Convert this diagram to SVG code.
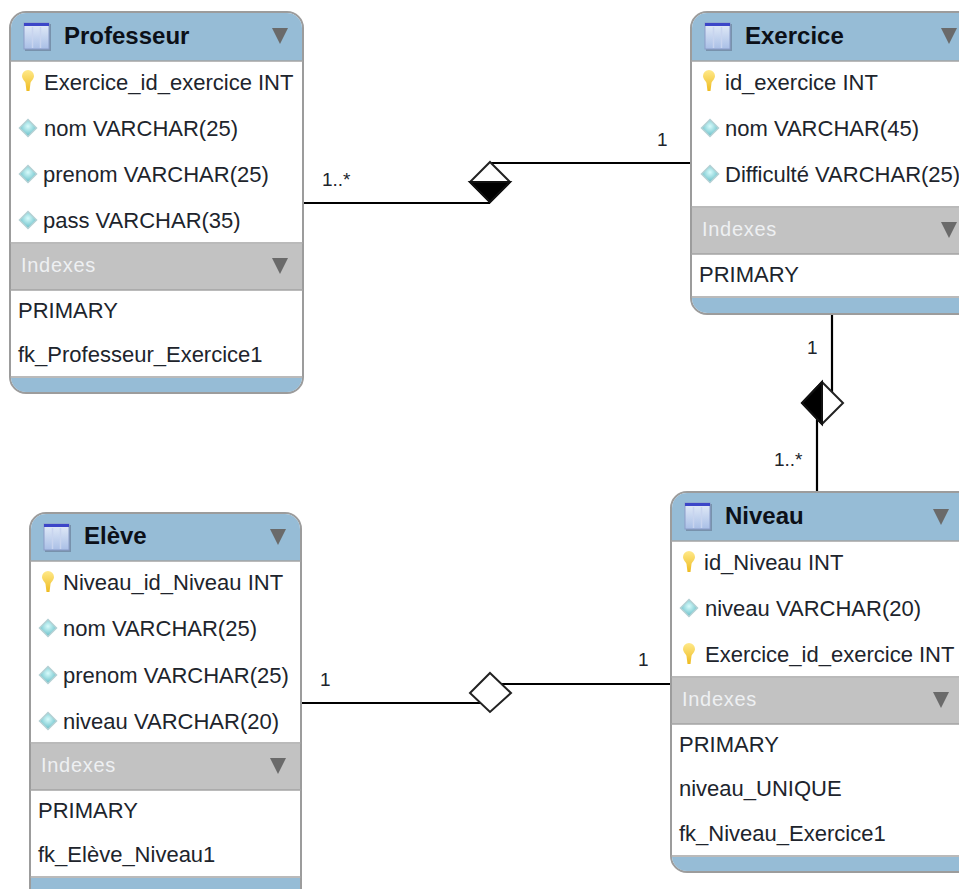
<svg xmlns="http://www.w3.org/2000/svg" xmlns:xlink="http://www.w3.org/1999/xlink" width="959" height="889" viewBox="0 0 959 889">
<style>
text{font-family:"Liberation Sans",Arial,sans-serif;font-size:22px;fill:#20242c}
.t{font-weight:bold;font-size:24px;fill:#0c1018}
.i{fill:#eef0f2;font-size:20px;letter-spacing:.7px}
.c{font-size:19px}
.body{fill:#fff;stroke:#9c9c9c;stroke-width:2}
.hd{fill:#96bcd6}
.ix{fill:#c2c2c2}
.edge{fill:none;stroke:#000;stroke-width:2.200}
.dw{fill:#fff;stroke:#222;stroke-width:2}
</style>
<defs>
<linearGradient id="tg" x1="0" y1="0" x2="0" y2="1"><stop offset="0" stop-color="#e4ecf8"/><stop offset="1" stop-color="#a9bfe6"/></linearGradient>
<radialGradient id="dg" cx=".5" cy=".4" r=".6"><stop offset="0" stop-color="#d8fbfb"/><stop offset="1" stop-color="#62bcc6"/></radialGradient>
<linearGradient id="kg" x1="0" y1="0" x2="0" y2="1"><stop offset="0" stop-color="#ffe98a"/><stop offset="1" stop-color="#eebb20"/></linearGradient>
<g id="tbl"><rect x="1" y="1" width="26" height="27" fill="#55607a" opacity=".45"/><rect x="0" y="0" width="25" height="26" fill="url(#tg)" stroke="#8b9cc8"/><rect x="0" y="0" width="25" height="3" fill="#3c46c8"/><path d="M8.500 4V25M16.500 4V25" stroke="#c8d4ee" stroke-width="1.500"/></g>
<path id="tri" d="M-8-8H8L0 8Z" fill="#6a6a6a"/>
<path id="dia" d="M0-8.500L8.500 0L0 8.500L-8.500 0Z" fill="url(#dg)" stroke="#b4d0d4" stroke-width="1.500"/>
<g id="key"><path d="M-6-5A6 6 0 0 1 6-5C6-2 3 0 2.500 2L1.500 10H-1.500L-2.500 2C-3 0-6-2-6-5Z" fill="url(#kg)"/></g>
</defs>

<g id="connectors">
<path class="edge" d="M303 203H490M490 163H691"/>
<path class="edge" d="M832 314V405M817 405V492"/>
<path class="edge" d="M301 703H490M490 684H671"/>
<path d="M490 162L510 182L490 202L470 182Z" fill="#fff" stroke="#222" stroke-width="2"/>
<path d="M470 182H510L490 202Z" fill="#000" stroke="#111" stroke-width="2"/>
<path d="M822 382L843 403L822 424L802 403Z" fill="#fff" stroke="#222" stroke-width="2"/>
<path d="M822 382V424L802 403Z" fill="#000" stroke="#111" stroke-width="2"/>
<path class="dw" d="M490 673L511 693L490 712L470 693Z"/>
<text class="c" x="322" y="186">1..*</text>
<text class="c" x="657" y="146">1</text>
<text class="c" x="807" y="354">1</text>
<text class="c" x="774" y="466">1..*</text>
<text class="c" x="320" y="686">1</text>
<text class="c" x="638" y="666">1</text>
</g>

<g id="professeur">
<rect class="body" x="10" y="12" width="293" height="381" rx="16"/>
<path class="hd" d="M11 61V28A15 15 0 0 1 26 13H287A15 15 0 0 1 302 28V61Z"/>
<rect class="ix" x="11" y="244" width="291" height="46"/>
<path class="hd" d="M11 378H302A15 15 0 0 1 287 392H26A15 15 0 0 1 11 378Z"/>
<path d="M10 61H303M10 243H303M10 290H303M10 377H303" stroke="#a4a4a4" stroke-width="1.500"/>
<use href="#tbl" x="24" y="23"/><text class="t" x="64" y="44">Professeur</text><use href="#tri" x="280" y="36"/>
<use href="#key" x="28" y="81"/><text x="44" y="90">Exercice_id_exercice INT</text>
<use href="#dia" x="28" y="128"/><text x="44" y="136">nom VARCHAR(25)</text>
<use href="#dia" x="28" y="174"/><text x="43" y="182">prenom VARCHAR(25)</text>
<use href="#dia" x="28" y="220"/><text x="43" y="228">pass VARCHAR(35)</text>
<text class="i" x="21" y="272">Indexes</text><use href="#tri" x="280" y="266"/>
<text x="18" y="318">PRIMARY</text>
<text x="18" y="362">fk_Professeur_Exercice1</text>
</g>

<g id="exercice">
<rect class="body" x="691" y="12" width="290" height="302" rx="16"/>
<path class="hd" d="M692 61V28A15 15 0 0 1 707 13H980V61Z"/>
<rect class="ix" x="692" y="208" width="288" height="46"/>
<path class="hd" d="M692 298H980V313H707A15 15 0 0 1 692 298Z"/>
<path d="M691 61H960M691 207H960M691 254H960M691 297H960" stroke="#a4a4a4" stroke-width="1.500"/>
<use href="#tbl" x="705" y="23"/><text class="t" x="745" y="44">Exercice</text><use href="#tri" x="949" y="36"/>
<use href="#key" x="709" y="81"/><text x="725" y="90">id_exercice INT</text>
<use href="#dia" x="710" y="128"/><text x="725" y="136">nom VARCHAR(45)</text>
<use href="#dia" x="710" y="174"/><text x="725" y="182">Difficulté VARCHAR(25)</text>
<text class="i" x="702" y="236">Indexes</text><use href="#tri" x="949" y="230"/>
<text x="699" y="282">PRIMARY</text>
</g>

<g id="niveau">
<rect class="body" x="671" y="492" width="310" height="380" rx="16"/>
<path class="hd" d="M672 541V508A15 15 0 0 1 687 493H980V541Z"/>
<rect class="ix" x="672" y="678" width="308" height="46"/>
<path class="hd" d="M672 857H980V871H687A15 15 0 0 1 672 857Z"/>
<path d="M671 541H960M671 677H960M671 724H960M671 856H960" stroke="#a4a4a4" stroke-width="1.500"/>
<use href="#tbl" x="685" y="503"/><text class="t" x="725" y="524">Niveau</text><use href="#tri" x="941" y="517"/>
<use href="#key" x="689" y="562"/><text x="704" y="570">id_Niveau INT</text>
<use href="#dia" x="689" y="608"/><text x="705" y="616">niveau VARCHAR(20)</text>
<use href="#key" x="689" y="654"/><text x="705" y="662">Exercice_id_exercice INT</text>
<text class="i" x="682" y="706">Indexes</text><use href="#tri" x="941" y="700"/>
<text x="679" y="752">PRIMARY</text>
<text x="679" y="796">niveau_UNIQUE</text>
<text x="679" y="841">fk_Niveau_Exercice1</text>
</g>

<g id="eleve">
<rect class="body" x="30" y="513" width="271" height="400" rx="16"/>
<path class="hd" d="M31 561V529A15 15 0 0 1 46 514H285A15 15 0 0 1 300 529V561Z"/>
<rect class="ix" x="31" y="744" width="269" height="46"/>
<rect class="hd" x="31" y="878" width="269" height="12"/>
<path d="M30 561H301M30 743H301M30 790H301M30 877H301" stroke="#a4a4a4" stroke-width="1.500"/>
<use href="#tbl" x="44" y="524"/><text class="t" x="84" y="544">Elève</text><use href="#tri" x="278" y="537"/>
<use href="#key" x="48" y="582"/><text x="63" y="590">Niveau_id_Niveau INT</text>
<use href="#dia" x="48" y="628"/><text x="63" y="636">nom VARCHAR(25)</text>
<use href="#dia" x="48" y="675"/><text x="63" y="683">prenom VARCHAR(25)</text>
<use href="#dia" x="48" y="721"/><text x="63" y="729">niveau VARCHAR(20)</text>
<text class="i" x="41" y="772">Indexes</text><use href="#tri" x="278" y="766"/>
<text x="38" y="818">PRIMARY</text>
<text x="38" y="862">fk_Elève_Niveau1</text>
</g>
</svg>
